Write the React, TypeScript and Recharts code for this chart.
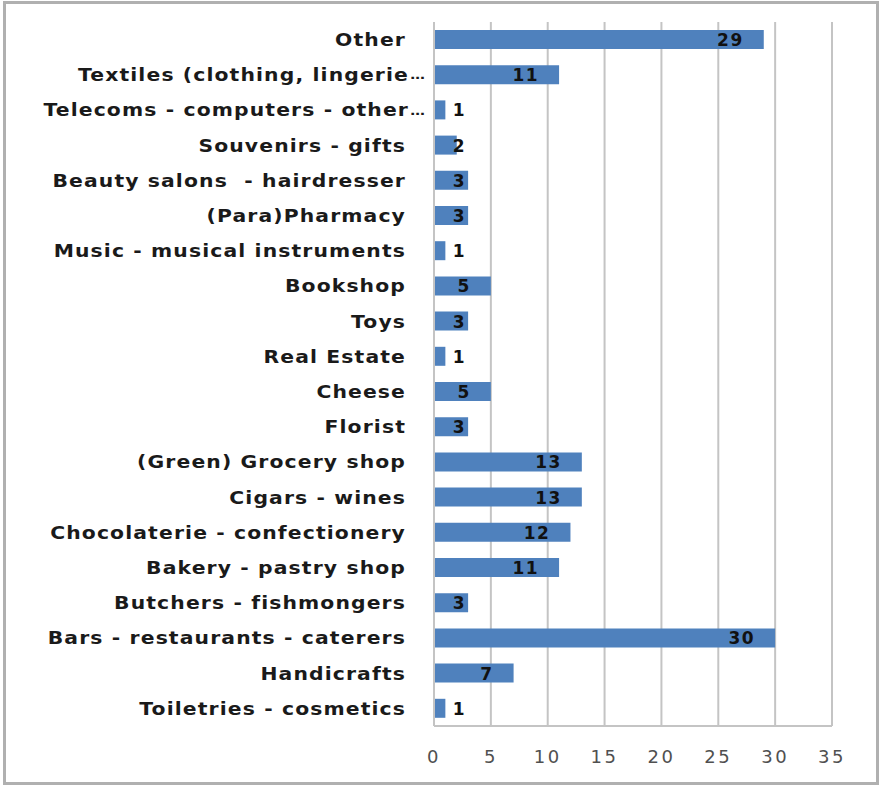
import { BarChart, Bar, XAxis, YAxis, CartesianGrid, LabelList } from "recharts";

const categories = [
  "Other",
  "Textiles (clothing, lingerie…",
  "Telecoms - computers - other…",
  "Souvenirs - gifts",
  "Beauty salons  - hairdresser",
  "(Para)Pharmacy",
  "Music - musical instruments",
  "Bookshop",
  "Toys",
  "Real Estate",
  "Cheese",
  "Florist",
  "(Green) Grocery shop",
  "Cigars - wines",
  "Chocolaterie - confectionery",
  "Bakery - pastry shop",
  "Butchers - fishmongers",
  "Bars - restaurants - caterers",
  "Handicrafts",
  "Toiletries - cosmetics",
];

const counts = [29, 11, 1, 2, 3, 3, 1, 5, 3, 1, 5, 3, 13, 13, 12, 11, 3, 30, 7, 1];

const xTicks = [0, 5, 10, 15, 20, 25, 30, 35];

const data = categories.map((name, i) => ({ name, value: counts[i] }));

const FONT = "'DejaVu Sans', Verdana, sans-serif";

// Excel-style stretched bold labels, right aligned a bit left of the axis
const CategoryTick = (props: any) => {
  const { x, y, payload } = props;
  const label: string = payload.value;
  const hasEllipsis = label.endsWith("…");
  const main = hasEllipsis ? label.slice(0, -1) : label;
  const ls = 1;
  const endX = x - 21 + ls + (hasEllipsis ? 3 : 0);
  return (
    <g transform={`translate(${endX},${y}) scale(1.13,1)`}>
      <text
        x={0}
        y={0}
        dy="0.35em"
        textAnchor="end"
        fill="#1a1a1a"
        fontFamily={FONT}
        fontWeight="bold"
        fontSize={18}
        letterSpacing={ls}
        style={{ whiteSpace: "pre" }}
      >
        {main}
      </text>
      {hasEllipsis && (
        <text x={1} y={0} dy="0.35em" textAnchor="start" fill="#1a1a1a" fontFamily={FONT} fontWeight="bold" fontSize={13}>
          …
        </text>
      )}
    </g>
  );
};

const ValueLabel = (props: any) => {
  const { x, y, width, height, value } = props;
  const textW = String(value).length * 13;
  const right = Math.max(x + width - 20, x + 19 + textW);
  return (
    <text
      x={right}
      y={y + height / 2}
      dy="0.38em"
      textAnchor="end"
      fill="#111"
      fontFamily={FONT}
      fontWeight="bold"
      fontSize={17}
      letterSpacing={1.5}
    >
      {value}
    </text>
  );
};

export default function App() {
  return (
    <div style={{ position: "absolute", left: 0, top: 0, width: 882, height: 787, background: "#fff" }}>
      <div
        style={{
          position: "absolute",
          left: 3,
          top: 1,
          width: 876,
          height: 784,
          border: "3px solid #b0b0b0",
          boxSizing: "border-box",
        }}
      />
      <div style={{ position: "absolute", left: 0, top: 0 }}>
        <BarChart
          width={882}
          height={787}
          data={data}
          layout="vertical"
          margin={{ top: 22, right: 50, bottom: 21, left: 0 }}
          barSize={19}
        >
          <CartesianGrid horizontal={false} vertical={true} stroke="#c4c4c4" strokeWidth={2} />
          <XAxis
            type="number"
            domain={[0, 35]}
            ticks={xTicks}
            height={40}
            axisLine={{ stroke: "#c4c4c4", strokeWidth: 2 }}
            tickLine={false}
            tickSize={0}
            tickMargin={24}
            tick={{ fill: "#505050", fontFamily: FONT, fontSize: 18, letterSpacing: 2.5 }}
          />
          <YAxis
            type="category"
            dataKey="name"
            width={434}
            axisLine={{ stroke: "#c4c4c4", strokeWidth: 2 }}
            tickLine={false}
            interval={0}
            tick={<CategoryTick />}
          />
          <Bar dataKey="value" fill="#4f81bd" isAnimationActive={false}>
            <LabelList dataKey="value" content={<ValueLabel />} />
          </Bar>
        </BarChart>
      </div>
    </div>
  );
}
